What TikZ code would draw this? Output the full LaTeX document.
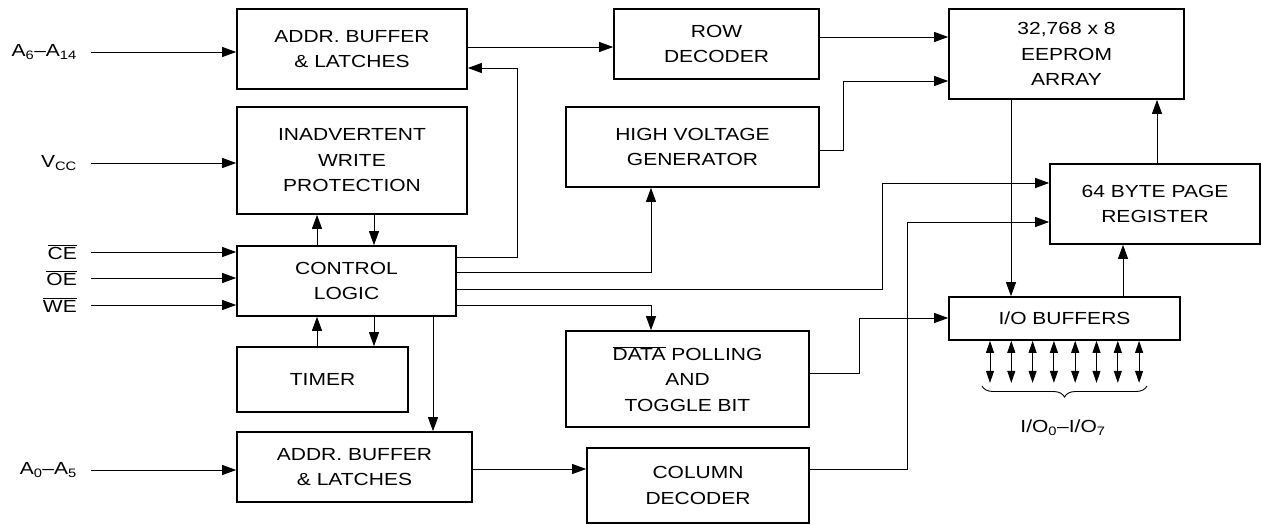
\documentclass[tikz,border=0pt]{standalone}
\usepackage{fontspec}
\setmainfont{Liberation Sans}[FakeStretch=1.2]
\usetikzlibrary{arrows.meta}
\usetikzlibrary{positioning}
\usetikzlibrary{decorations.pathreplacing}
\newcommand{\ovl}[1]{\mbox{$\overline{\mbox{#1}}$}}

\begin{document}
\begin{tikzpicture}[x=1pt,y=-1pt,font=\fontsize{17.5}{25.5}\selectfont,
  blk/.style={draw,line width=1.7pt,align=center,inner sep=0pt},
  sz/.style 2 args={minimum width=#1pt,minimum height=#2pt},
  sig/.style={line width=0.9pt,-{Triangle[length=14pt,width=10pt]}},
  bisig/.style={line width=0.9pt,{Triangle[length=12pt,width=8pt]}-{Triangle[length=12pt,width=8pt]}},
  lbl/.style={anchor=east,inner sep=0pt}]
\useasboundingbox (0,0) rectangle (1262,525);
\node[blk,sz={230}{80}] (abufA) at (352,49) {ADDR. BUFFER\\\& LATCHES};
\node[blk,sz={230}{107}] (inadv) at (352,160.5) {INADVERTENT\\WRITE\\PROTECTION};
\node[blk,sz={219}{70}] (ctl) at (346.5,281) {CONTROL\\LOGIC};
\node[blk,sz={171}{65}] (timer) at (322.5,379.5) {TIMER};
\node[blk,sz={235}{70}] (abufB) at (354.5,467) {ADDR. BUFFER\\\& LATCHES};
\node[blk,sz={205}{70}] (rowdec) at (716.5,44) {ROW\\DECODER};
\node[blk,sz={253}{80}] (hvgen) at (692.5,147) {HIGH VOLTAGE\\GENERATOR};
\node[blk,sz={243}{96}] (poll) at (687.5,379) {\ovl{DATA} POLLING\\AND\\TOGGLE BIT};
\node[blk,sz={222}{75}] (coldec) at (698,485.5) {COLUMN\\DECODER};
\node[blk,sz={235}{90}] (eeprom) at (1066.5,54) {32,768 x 8\\EEPROM\\ARRAY};
\node[blk,sz={210}{80}] (pagereg) at (1155,204) {64 BYTE PAGE\\REGISTER};
\node[blk,sz={231}{43}] (iobuf) at (1064.5,318.5) {I/O BUFFERS};

\node[lbl] (inA) at (77,52) {A\textsubscript{6}--A\textsubscript{14}};
\node[lbl] (inV) at (77,163) {V\textsubscript{CC}};
\node[lbl] (inCE) at (77,252) {\ovl{CE}};
\node[lbl] (inOE) at (77,278) {\ovl{OE}};
\node[lbl] (inWE) at (77,305) {\ovl{WE}};
\node[lbl] (inB) at (77,470) {A\textsubscript{0}--A\textsubscript{5}};
\node (io) at (1063,428) {I/O\textsubscript{0}--I/O\textsubscript{7}};

\draw[sig] ([xshift=14pt]inA.east) -- (abufA.west |- inA.east);
\draw[sig] ([xshift=14pt]inV.east) -- (inadv.west |- inV.east);
\draw[sig] ([xshift=14pt]inCE.east) -- (ctl.west |- inCE.east);
\draw[sig] ([xshift=14pt]inOE.east) -- (ctl.west |- inOE.east);
\draw[sig] ([xshift=14pt]inWE.east) -- (ctl.west |- inWE.east);
\draw[sig] ([xshift=14pt]inB.east) -- (abufB.west |- inB.east);

\draw[sig] (ctl.north -| 317,0) -- (inadv.south -| 317,0);
\draw[sig] (inadv.south -| 374,0) -- (ctl.north -| 374,0);
\draw[sig] (timer.north -| 317,0) -- (ctl.south -| 317,0);
\draw[sig] (ctl.south -| 374,0) -- (timer.north -| 374,0);
\draw[sig] (ctl.south -| 433,0) -- (abufB.north -| 433,0);

\draw[sig] (abufA.east |- 0,47) -- (rowdec.west |- 0,47);
\draw[sig] (ctl.east |- 0,257) -| (517,68) -- (abufA.east |- 0,68);
\draw[sig] (ctl.east |- 0,272) -| (hvgen.south -| 651,0);
\draw[sig] (ctl.east |- 0,289) -| (882,183) -- (pagereg.west |- 0,183);
\draw[sig] (ctl.east |- 0,305) -| (poll.north -| 651,0);
\draw[sig] (abufB.east |- 0,469) -- (coldec.west |- 0,469);
\draw[sig] (coldec.east |- 0,469) -| (907,222) -- (pagereg.west |- 0,222);
\draw[sig] (rowdec.east |- 0,37) -- (eeprom.west |- 0,37);
\draw[sig] (hvgen.east |- 0,150) -| (843,81) -- (eeprom.west |- 0,81);
\draw[sig] (poll.east |- 0,373) -| (859,318) -- (iobuf.west |- 0,318);
\draw[sig] (eeprom.south -| 1011,0) -- (iobuf.north -| 1011,0);
\draw[sig] (pagereg.north -| 1157,0) -- (eeprom.south -| 1157,0);
\draw[sig] (iobuf.north -| 1123,0) -- (pagereg.south -| 1123,0);

\foreach \x in {0,...,7}
  \draw[bisig] (iobuf.south -| 990+21.3*\x,0) -- ++(0,42);
\draw[line width=0.9pt,decorate,decoration={brace,mirror,amplitude=11pt}] (982,386) -- (1147,386);
\end{tikzpicture}
\end{document}
